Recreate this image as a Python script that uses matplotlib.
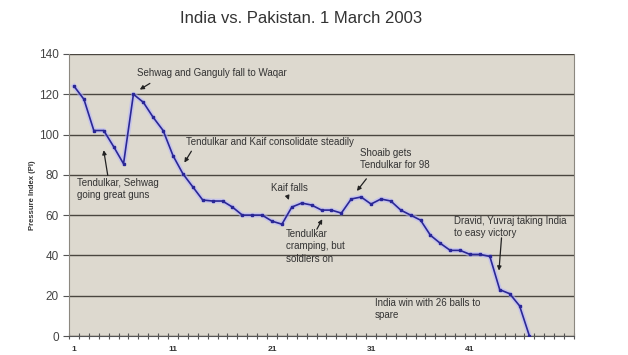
import matplotlib
matplotlib.use("Agg")
import matplotlib.pyplot as plt
import numpy as np

plt.rcParams['font.family'] = ['Liberation Sans', 'DejaVu Sans']

# pressure index, one value per over
overs = list(range(1, 48))
pressure = [124, 117.5, 102, 102, 94, 85.5, 120, 116, 108.5, 102,
            89.5, 80.5, 74, 67.5, 67, 67, 64, 60, 60, 60,
            57, 55.5, 64, 66, 65, 62.5, 62.5, 61, 68, 69,
            65.5, 68, 67, 62.5, 60, 57.5, 50, 46, 42.5, 42.5,
            40.5, 40.5, 39.5, 23, 21, 15, 0]
x_labels = [1, 11, 21, 31, 41]
y_ticks = [0, 20, 40, 60, 80, 100, 120, 140]

# (text, text pos, arrow tail, arrow head)
notes = [
    ("Sehwag and Ganguly fall to Waqar", (7.4, 130.6), (8.9, 126.1), (7.4, 121.6)),
    ("Tendulkar, Sehwag\ngoing great guns", (1.3, 78.5), (4.45, 78.4), (3.95, 93.6)),
    ("Tendulkar and Kaif consolidate steadily", (12.3, 96.3), (13.0, 92.9), (12.0, 84.9)),
    ("Kaif falls", (20.9, 73.5), (22.5, 70.2), (22.8, 66.2)),
    ("Tendulkar\ncramping, but\nsoldiers on", (22.4, 53.2), (25.4, 51.8), (26.2, 59.2)),
    ("Shoaib gets\nTendulkar for 98", (29.9, 93.4), (30.7, 79.1), (29.4, 70.9)),
    ("Dravid, Yuvraj taking India\nto easy victory", (39.4, 59.6), (44.2, 50.1), (43.9, 31.1)),
    ("India win with 26 balls to\nspare", (31.4, 19.0), None, None),
]

fig = plt.figure(figsize=(6.28, 3.55), dpi=100)
ax = fig.add_axes([0.110, 0.0535, 0.804, 0.7945])
ax.set_facecolor("#ddd9cf")

ax.plot(overs, pressure, color="#b4b4ff", lw=3.5, alpha=0.55, zorder=2)
ax.plot(overs, pressure, color="#2a2796", lw=1.2, marker="s", ms=2.0, zorder=3)

ax.set_xlim(0.5, 51.5)
ax.set_ylim(0, 140)
ax.set_yticks(y_ticks)
ax.set_yticklabels([str(v) for v in y_ticks], fontsize=8.5, color="#444444")
ax.yaxis.grid(True, color="#4a4640", lw=1.0)
ax.set_axisbelow(True)

ax.set_xticks(np.arange(0.5, 52, 1))
ax.set_xticklabels([])
ax.tick_params(axis="x", direction="inout", length=4, color="#555555", width=0.8)
ax.tick_params(axis="y", direction="out", length=4, color="#555555")
for v in x_labels:
    ax.text(v, -6.5, str(v), ha="center", va="center", fontsize=6,
            fontweight="bold", color="#333333")

ax.spines["top"].set_visible(False)
for side in ["left", "right"]:
    ax.spines[side].set_color("#8c8880")
ax.spines["bottom"].set_color("#555555")

ax.set_ylabel("Pressure Index (PI)", fontsize=5.5, fontweight="bold",
              color="#333333", labelpad=2)

for txt, pos, tail, head in notes:
    ax.text(pos[0], pos[1], txt, fontsize=7, color="#333333",
            va="top" if "\n" in txt else "center",
            ha="left", linespacing=1.3, zorder=4)
    if tail is not None:
        ax.annotate("", xy=head, xytext=tail,
                    arrowprops=dict(arrowstyle="-|>", color="#222222", lw=0.9,
                                    mutation_scale=6), zorder=4)

fig.text(0.479, 0.948, "India vs. Pakistan. 1 March 2003", ha="center", va="center",
         fontsize=12, color="#333333")

fig.savefig("out.png", dpi=100)
